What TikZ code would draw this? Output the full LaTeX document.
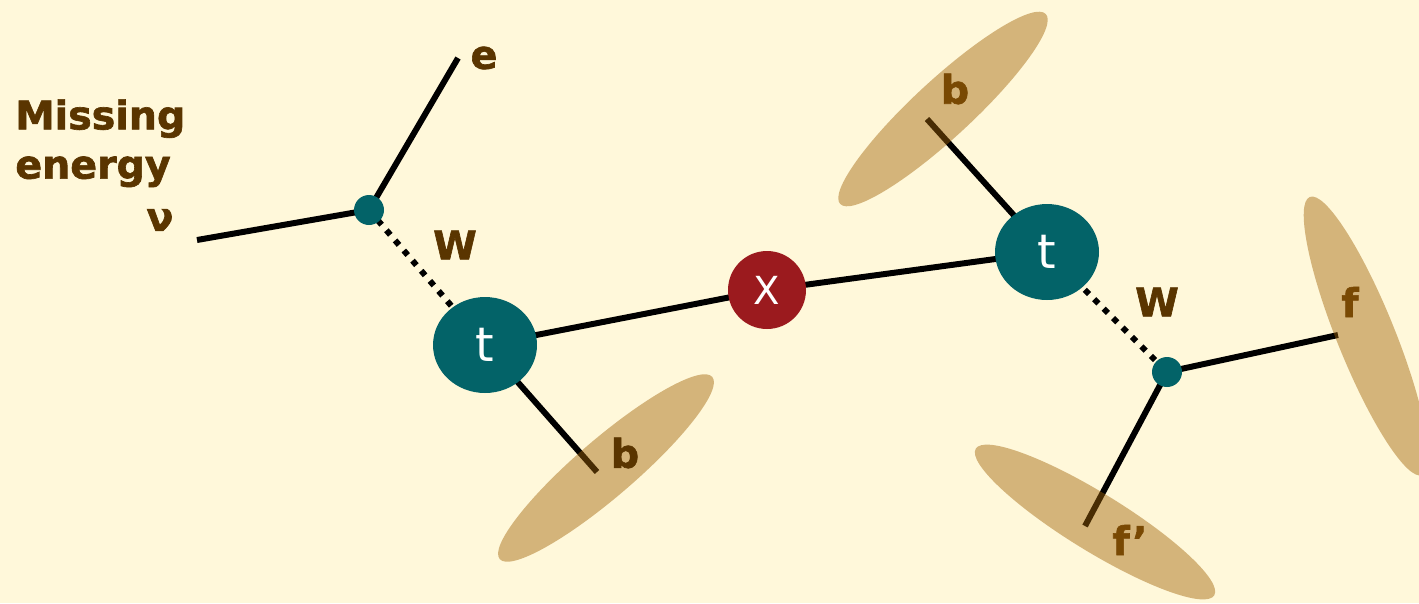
\documentclass[tikz,border=0pt]{standalone}
\usepackage{fontspec}
\setmainfont{DejaVu Sans}
\newfontfamily\lblfont{DejaVu Sans Bold}[FakeBold=1.6]
\usetikzlibrary{shapes.geometric, positioning}
\definecolor{bgcream}{RGB}{255,248,218}
\definecolor{darkteal}{RGB}{3,99,104}
\definecolor{darkred}{RGB}{155,26,30}
\definecolor{darkbrown}{RGB}{90,53,0}
\definecolor{blobtan}{RGB}{160,98,7}
\pgfdeclarelayer{bg}
\pgfdeclarelayer{edges}
\pgfsetlayers{bg,edges,main}

\begin{document}
\begin{tikzpicture}[
        x=0.02cm, y=-0.02cm,
        quark/.style={ellipse, fill=darkteal, minimum width=2.08cm, minimum height=1.92cm, inner sep=0pt, text=white, font=\fontsize{27}{27}\selectfont},
        res/.style={circle, fill=darkred, minimum size=1.56cm, inner sep=0pt, text=white, font=\fontsize{22}{22}\selectfont},
        vertex/.style={circle, fill=darkteal, minimum size=0.6cm, inner sep=0pt},
        jet/.style={ellipse, fill=blobtan, fill opacity=0.45, minimum width=5.6cm, minimum height=1.16cm, inner sep=0pt},
        lbl/.style={text=darkbrown, font=\lblfont\fontsize{22.5}{28}\selectfont, inner sep=0pt},
        leg/.style={line width=3.4pt},
        wleg/.style={line width=3.4pt, dash pattern=on 3.4pt off 4.2pt}
    ]
        % Background
        \begin{pgfonlayer}{bg}
        \fill[bgcream] (0,0) rectangle (1419,603);
        \end{pgfonlayer}
        \useasboundingbox (0,0) rectangle (1419,603);
        \clip (0,0) rectangle (1419,603);

        % Tops, resonance and W vertices
        \node[quark] (tL) at (485,345) {t};
        \node[quark] (tR) at (1047,252) {t};
        \node[res] (xres) at (767,290) {X};
        \node[vertex] (wL) at (369,210) {};
        \node[vertex] (wR) at (1167,372) {};

        \coordinate (nu) at (197,240);
        \coordinate (el) at (458,58);
        \coordinate (bL) at (597,472);
        \coordinate (bR) at (927,119);
        \coordinate (ff) at (1338,335);
        \coordinate (fp) at (1085,526);

        % Legs
        \begin{pgfonlayer}{edges}
        \draw[leg] (nu) -- (wL.center) -- (el);
        \draw[leg] (tL.center) -- (xres.center) -- (tR.center);
        \draw[leg] (tL.center) -- (bL);
        \draw[leg] (tR.center) -- (bR);
        \draw[leg] (ff) -- (wR.center) -- (fp);
        \draw[wleg] (wL.center) -- (tL.center);
        \draw[wleg] (tR.center) -- (wR.center);
        \end{pgfonlayer}

        % Labels
        \node[lbl, align=left, anchor=north west] (miss) at (15,99) {Missing\\energy};
        \node[lbl] (nulbl) at (160,220) {ν};
        \node[lbl] (elbl) at (484,58) {e};
        \node[lbl] (wLlbl) at (455,245) {W};
        \node[lbl] (wRlbl) at (1157,302) {W};
        \node[lbl] (bRlbl) at (955,89) {b};
        \node[lbl] (flbl) at (1350,302) {f};
        \node[lbl] (fplbl) at (1130,540) {f’};

        % Jets
        \node[jet, rotate=40.6] (bLjet) at (606,468) {};
        \node[jet, rotate=42.7] (bRjet) at (943,109) {};
        \node[jet, rotate=-68, minimum width=6cm] (fjet) at (1366,336) {};
        \node[jet, rotate=-31.6] (fpjet) at (1095,522) {};
        \node[lbl] (bLlbl) at (625,453) {b};
    \end{tikzpicture}
\end{document}
